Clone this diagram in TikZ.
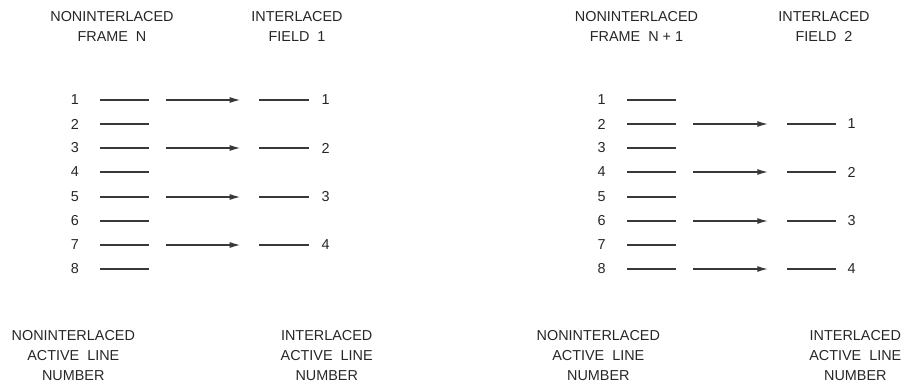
\documentclass[tikz,border=0pt]{standalone}
\usepackage{fontspec}
\setmainfont{Liberation Sans}
\usetikzlibrary{arrows.meta}

\begin{document}
\begin{tikzpicture}[
    x=1pt, y=-1pt,
    lbl/.style={font=\fontsize{14.4}{20}\selectfont, inner sep=0pt, text=black!85},
    hdr/.style={lbl, align=center, anchor=north},
    scanline/.style={line width=1.6pt, draw=black!78},
    arr/.style={scanline, -{Latex[length=11pt, width=6pt]}},
]
    \useasboundingbox (0,0) rectangle (904,385);

    % Headers
    \node[hdr] (hframeA) at (112, 11.5) {NONINTERLACED\\FRAME\ \ N};
    \node[hdr] (hfieldA) at (297, 11.5) {INTERLACED\\FIELD\ \ 1};
    \node[hdr] (hframeB) at (636.5, 11.5) {NONINTERLACED\\FRAME\ \ N + 1};
    \node[hdr] (hfieldB) at (824, 11.5) {INTERLACED\\FIELD\ \ 2};

    % Frame lines 1..8, both panels
    \foreach \i/\y in {1/100,2/124,3/148,4/172,5/197,6/221,7/245,8/269} {
        \node[lbl] (na\i) at (75, \y) {\i};
        \draw[scanline] (100, \y) -- (149, \y);
        \node[lbl] (nb\i) at (601.7, \y) {\i};
        \draw[scanline] (627.3, \y) -- (676, \y);
    }

    % Field 1 takes the odd lines
    \foreach \k/\y in {1/100,2/148,3/197,4/245} {
        \coordinate (aa\k) at (165.7, \y);
        \coordinate (ab\k) at (240.7, \y);
        \draw[arr] (aa\k) -- (ab\k);
        \draw[scanline] (259.3, \y) -- (309, \y);
        \node[lbl] (fa\k) at (325.7, \y) {\k};
    }

    % Field 2 takes the even lines
    \foreach \k/\y in {1/124,2/172,3/221,4/269} {
        \coordinate (ba\k) at (693.3, \y);
        \coordinate (bb\k) at (768.3, \y);
        \draw[arr] (ba\k) -- (bb\k);
        \draw[scanline] (787.3, \y) -- (836, \y);
        \node[lbl] (fb\k) at (851.7, \y) {\k};
    }

    % Bottom captions
    \node[hdr] (capA) at (73.3, 330.5) {NONINTERLACED\\ACTIVE\ \ LINE\\NUMBER};
    \node[hdr] (capB) at (326.7, 330.5) {INTERLACED\\ACTIVE\ \ LINE\\NUMBER};
    \node[hdr] (capC) at (598.3, 330.5) {NONINTERLACED\\ACTIVE\ \ LINE\\NUMBER};
    \node[hdr] (capD) at (855.3, 330.5) {INTERLACED\\ACTIVE\ \ LINE\\NUMBER};
\end{tikzpicture}
\end{document}
